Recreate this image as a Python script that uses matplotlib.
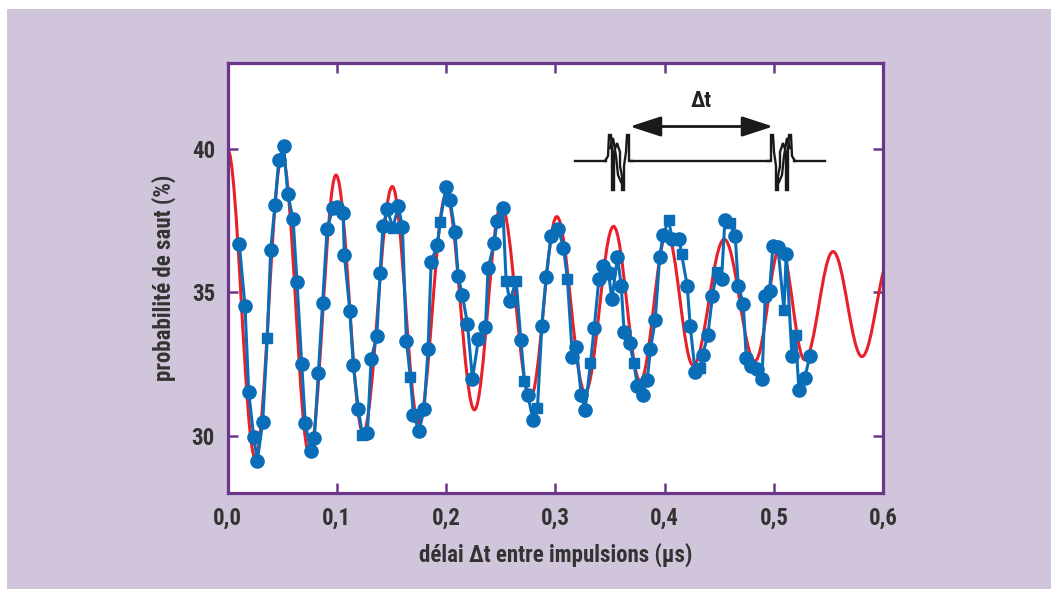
import numpy as np
import matplotlib
matplotlib.use("Agg")
import matplotlib.pyplot as plt
from matplotlib.path import Path
from matplotlib.patches import PathPatch, Rectangle
from matplotlib.lines import Line2D
from matplotlib import font_manager

# ---------------- data ----------------
# measured points (blue), marker: 'o' circle, 's' square
blue_x = [0.0108, 0.0160, 0.0194, 0.0240, 0.0273, 0.0322, 0.0364, 0.0395, 0.0435, 0.0469,
          0.0514, 0.0551, 0.0600, 0.0636, 0.0679, 0.0712, 0.0762, 0.0795, 0.0831, 0.0871,
          0.0911, 0.0963, 0.1005, 0.1057, 0.1069, 0.1119, 0.1151, 0.1197, 0.1234, 0.1280,
          0.1314, 0.1366, 0.1396, 0.1423, 0.1463, 0.1512, 0.1563, 0.1600, 0.1637, 0.1673,
          0.1701, 0.1753, 0.1799, 0.1835, 0.1863, 0.1920, 0.1945, 0.2000, 0.2037, 0.2082,
          0.2110, 0.2149, 0.2195, 0.2241, 0.2296, 0.2360, 0.2384, 0.2439, 0.2467, 0.2519,
          0.2549, 0.2583, 0.2641, 0.2684, 0.2717, 0.2748, 0.2794, 0.2836, 0.2876, 0.2915,
          0.2961, 0.3028, 0.3074, 0.3110, 0.3156, 0.3190, 0.3236, 0.3272, 0.3321, 0.3355,
          0.3398, 0.3437, 0.3486, 0.3517, 0.3568, 0.3602, 0.3629, 0.3678, 0.3718, 0.3751,
          0.3800, 0.3840, 0.3870, 0.3913, 0.3954, 0.3986, 0.4035, 0.4069, 0.4133, 0.4154,
          0.4206, 0.4233, 0.4279, 0.4322, 0.4346, 0.4395, 0.4437, 0.4474, 0.4520, 0.4551,
          0.4593, 0.4645, 0.4673, 0.4719, 0.4746, 0.4789, 0.4844, 0.4890, 0.4920, 0.4959,
          0.4990, 0.5036, 0.5091, 0.5112, 0.5164, 0.5197, 0.5228, 0.5280, 0.5329]
blue_y = [36.68, 34.53, 31.53, 29.94, 29.13, 30.48, 33.41, 36.47, 38.06, 39.62,
          40.10, 38.43, 37.55, 35.37, 32.50, 30.43, 29.45, 29.92, 32.17, 34.64,
          37.20, 37.93, 37.99, 37.78, 36.31, 34.36, 32.45, 30.93, 30.03, 30.09,
          32.68, 33.46, 35.67, 37.32, 37.91, 37.24, 38.00, 37.29, 33.29, 32.05,
          30.71, 30.17, 30.94, 33.03, 36.05, 36.66, 37.45, 38.69, 38.21, 37.10,
          35.57, 34.90, 33.91, 31.98, 33.37, 33.79, 35.84, 36.71, 37.48, 37.93,
          35.40, 34.70, 35.40, 33.33, 31.92, 31.43, 30.56, 30.97, 33.83, 35.55,
          36.96, 37.20, 36.56, 35.46, 32.73, 33.10, 31.43, 30.90, 32.53, 33.75,
          35.46, 35.93, 35.67, 34.75, 36.24, 35.23, 33.61, 33.23, 32.53, 31.72,
          31.43, 31.95, 33.02, 34.02, 36.24, 37.00, 37.52, 36.86, 36.86, 36.34,
          35.23, 33.84, 32.21, 32.36, 32.80, 33.52, 34.87, 35.71, 35.45, 37.52,
          37.41, 36.98, 35.23, 34.60, 32.72, 32.43, 32.34, 31.96, 34.87, 35.03,
          36.60, 36.57, 34.39, 36.34, 32.79, 33.52, 31.58, 32.00, 32.79]
blue_m = ['o', 'o', 'o', 'o', 'o', 'o', 's', 'o', 'o', 'o',
          'o', 'o', 'o', 'o', 'o', 'o', 'o', 'o', 'o', 'o',
          'o', 'o', 'o', 'o', 'o', 'o', 'o', 'o', 's', 'o',
          'o', 'o', 'o', 'o', 'o', 's', 'o', 'o', 'o', 's',
          'o', 'o', 'o', 'o', 'o', 'o', 's', 'o', 'o', 'o',
          'o', 'o', 'o', 'o', 'o', 'o', 'o', 'o', 'o', 'o',
          's', 'o', 's', 'o', 's', 'o', 'o', 's', 'o', 'o',
          'o', 'o', 'o', 's', 'o', 'o', 'o', 'o', 's', 'o',
          'o', 'o', 'o', 'o', 'o', 'o', 'o', 'o', 's', 'o',
          'o', 'o', 'o', 'o', 'o', 'o', 's', 'o', 'o', 's',
          'o', 'o', 'o', 's', 'o', 'o', 'o', 's', 'o', 'o',
          's', 'o', 'o', 'o', 'o', 'o', 'o', 'o', 'o', 'o',
          'o', 'o', 's', 'o', 'o', 's', 'o', 'o', 'o']

# theoretical curve (red): successive extrema (peak / trough)
red_ext_x = [0.000, 0.0254, 0.0500, 0.0749, 0.0993, 0.1240, 0.1508, 0.1750, 0.2000,
             0.2259, 0.2505, 0.2770, 0.3013, 0.3272, 0.3532, 0.3776, 0.4020, 0.4260,
             0.4545, 0.4826, 0.5060, 0.5280, 0.5540, 0.5805, 0.6070]
red_ext_y = [40.00, 29.22, 39.75, 29.35, 39.09, 30.10, 38.69, 30.45, 38.40,
             30.90, 38.05, 31.30, 37.64, 31.52, 37.30, 31.90, 37.05, 32.45,
             36.85, 32.60, 36.60, 32.65, 36.42, 32.76, 36.30]

x_ticks = [0.0, 0.1, 0.2, 0.3, 0.4, 0.5, 0.6]
x_tick_labels = ["0,0", "0,1", "0,2", "0,3", "0,4", "0,5", "0,6"]
y_ticks = [30, 35, 40]
y_tick_labels = ["30", "35", "40"]
x_label = "délai Δt entre impulsions (µs)"
y_label = "probabilité de saut (%)"
inset_label = "Δt"

# ---------------- style ----------------
W, H = 1058, 594
LAV = "#d1c5dc"
PURPLE = "#6b3589"
BLUE = "#0a6db8"
RED = "#e8202a"
TXT = "#333333"
installed = {f.name for f in font_manager.fontManager.ttflist}
FONT = [f for f in ["Liberation Sans Narrow", "Roboto Condensed", "DejaVu Sans Condensed",
                    "Open Sans Condensed", "DejaVu Sans"] if f in installed]
plt.rcParams["font.family"] = FONT

fig = plt.figure(figsize=(W / 100, H / 100), dpi=100, facecolor="white")
fig.patches.append(Rectangle((7 / W, 1 - 589 / H), (1051 - 7) / W, (589 - 9) / H,
                             transform=fig.transFigure, facecolor=LAV, edgecolor="none",
                             zorder=-10))

ax = fig.add_axes([227.5 / W, 1 - 493 / H, (883.3 - 227.5) / W, (493 - 63) / H])
ax.set_zorder(1)
ax.set_facecolor("white")
ax.set_xlim(0, 0.6)
ax.set_ylim(28, 43)

for s in ax.spines.values():
    s.set_color(PURPLE)
    s.set_linewidth(2.3)

ax.set_xticks(x_ticks)
ax.set_xticklabels(x_tick_labels)
ax.set_yticks(y_ticks)
ax.set_yticklabels(y_tick_labels)
ax.tick_params(direction="in", length=7, width=1.8, color=PURPLE, top=True, right=True,
               labelsize=16.5, labelcolor=TXT)
ax.tick_params(axis="x", pad=10)
ax.tick_params(axis="y", pad=9)
for lab in ax.get_xticklabels() + ax.get_yticklabels():
    lab.set_fontweight("bold")

ax.set_xlabel(x_label, fontsize=16.5, fontweight="bold", color=TXT, labelpad=9)
ax.set_ylabel(y_label, fontsize=16.5, fontweight="bold", color=TXT, labelpad=11)

# red curve: smooth Bezier segments between successive extrema (horizontal tangents)
k = 0.3642
verts = [(red_ext_x[0], red_ext_y[0])]
codes = [Path.MOVETO]
for i in range(1, len(red_ext_x)):
    x0, y0 = red_ext_x[i - 1], red_ext_y[i - 1]
    x1, y1 = red_ext_x[i], red_ext_y[i]
    dx = x1 - x0
    verts += [(x0 + k * dx, y0), (x1 - k * dx, y1), (x1, y1)]
    codes += [Path.CURVE4] * 3
ax.add_patch(PathPatch(Path(verts, codes), facecolor="none", edgecolor=RED, lw=2.2,
                       zorder=2, clip_on=True))

# blue measured data
bx = np.array(blue_x)
by = np.array(blue_y)
bm = np.array(blue_m)
ax.plot(bx, by, color=BLUE, lw=2.2, zorder=3)
ax.plot(bx[bm == 'o'], by[bm == 'o'], 'o', color=BLUE, ms=9.5, mec=BLUE, zorder=4)
ax.plot(bx[bm == 's'], by[bm == 's'], 's', color=BLUE, ms=7.5, mec=BLUE, zorder=4)

# ---------------- inset pulse diagram (figure pixel coordinates) ----------------
def P(pts):
    return [p[0] / W for p in pts], [1 - p[1] / H for p in pts]

def line(pts, lw=1.7):
    xs, ys = P(pts)
    ax.add_artist(Line2D(xs, ys, transform=fig.transFigure, color="#1a1a1a", lw=lw,
                         solid_joinstyle="miter", zorder=6, clip_on=False))

burst = [
    [(605, 161), (608, 156), (609, 135), (611, 135), (612, 150), (612, 190)],
    [(614, 190), (614, 152), (617, 143), (620, 152), (620, 166), (622, 176), (622, 190)],
    [(624, 190), (624, 166), (626, 152), (627, 135), (629, 135), (629, 161), (632, 161)],
    [(610, 148), (613, 138), (616, 156), (618, 175), (621, 182)],
]
for b in burst:
    line(b)
    line([(1400 - x, y) for (x, y) in b])
line([(575, 161), (606, 161)])
line([(631, 161), (769, 161)])
line([(794, 161), (825, 161)])

xa, ya = P([(630, 126.5), (773, 126.5)])
ax.annotate("", xy=(xa[1], ya[1]), xytext=(xa[0], ya[0]), xycoords="figure fraction",
            textcoords="figure fraction", annotation_clip=False, zorder=6,
            arrowprops=dict(arrowstyle="<|-|>,head_length=1.9,head_width=0.62",
                            mutation_scale=10, color="#1a1a1a", lw=2.0,
                            shrinkA=0, shrinkB=0))
tx, ty = P([(701, 101)])
ax.text(tx[0], ty[0], inset_label, transform=fig.transFigure, fontsize=16,
        fontweight="bold", color="#222222", ha="center", va="center", zorder=6)

fig.savefig("out.png", dpi=100, facecolor="white")
